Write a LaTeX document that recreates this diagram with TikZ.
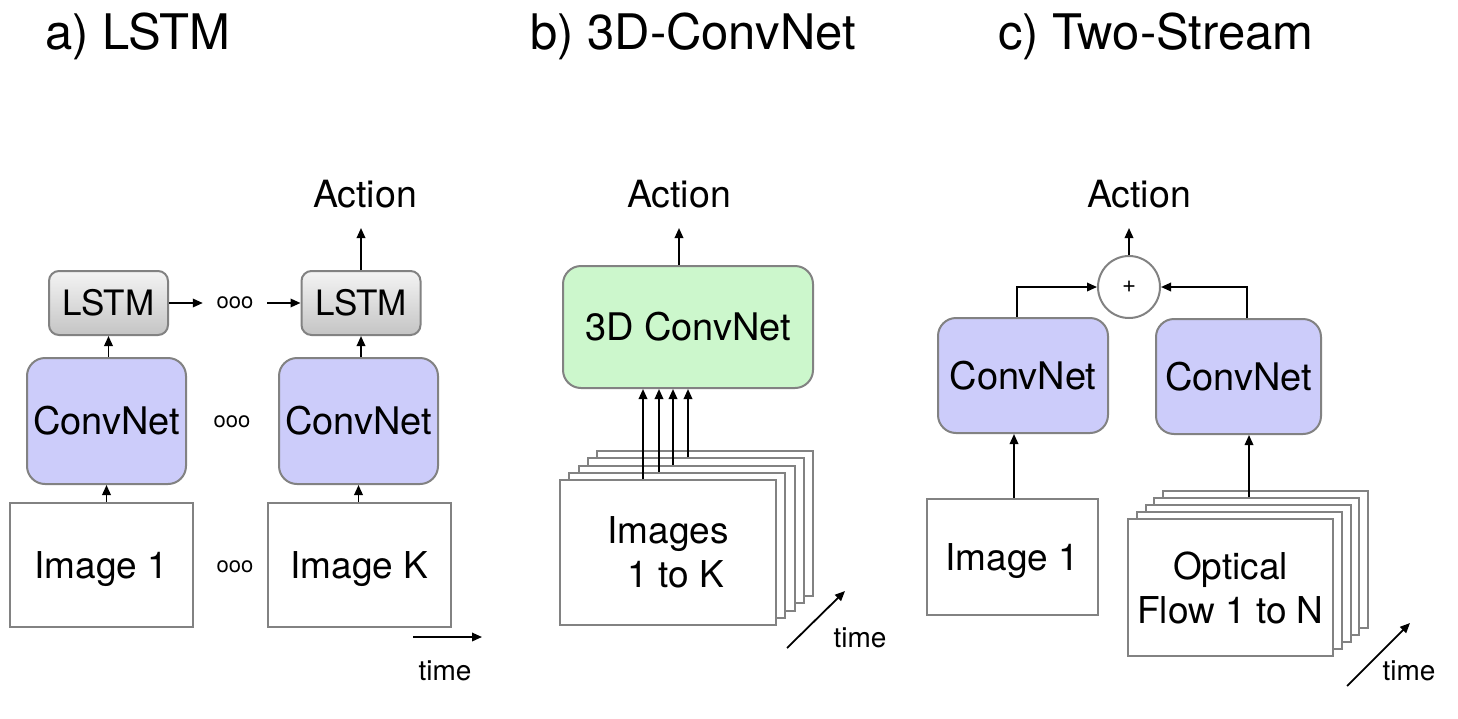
\documentclass[tikz,border=0pt]{standalone}
\usepackage{fontspec}
\setmainfont{TeX Gyre Heros}
\usetikzlibrary{arrows.meta,calc}
\definecolor{convfill}{RGB}{204,204,250}
\definecolor{greenfill}{RGB}{204,247,204}
\definecolor{bordergray}{RGB}{130,130,130}
\definecolor{lstmtop}{RGB}{244,244,244}
\definecolor{lstmbot}{RGB}{196,196,196}
\begin{document}
\begin{tikzpicture}[x=1pt,y=-1pt,
  bdr/.style={draw=bordergray, line width=2pt},
  conv/.style={bdr, fill=convfill, rounded corners=18pt, inner sep=0pt, font=\fontsize{38}{40}\selectfont},
  imgbox/.style={bdr, fill=white, inner sep=0pt, align=center, font=\fontsize{37}{44}\selectfont},
  lstmbox/.style={bdr, top color=lstmtop, bottom color=lstmbot, rounded corners=10pt, inner sep=0pt,
    minimum width=119pt, minimum height=64pt, font=\fontsize{35}{38}\selectfont},
  arr/.style={-{Triangle[length=10pt,width=8.5pt]}, line width=1.8pt},
  title/.style={anchor=base west, inner sep=0pt, font=\fontsize{49}{52}\selectfont},
  actlbl/.style={anchor=base, inner sep=0pt, font=\fontsize{37.5}{40}\selectfont},
  timelbl/.style={anchor=base, inner sep=0pt, font=\fontsize{28}{30}\selectfont},
  dotslbl/.style={inner sep=0pt, font=\fontsize{22}{24}\selectfont}
]
\fill[white] (0,0) rectangle (1458,718);
\useasboundingbox (0,0) rectangle (1458,718);

% titles
\node[title] (tA) at (45,49) {a) LSTM};
\node[title] (tB) at (530,49) {b) 3D-ConvNet};
\node[title] (tC) at (998,49) {c) Two-Stream};

% ---------------- panel a
\node[imgbox, text depth=0pt, minimum width=183pt, minimum height=124pt] (img1) at (101.5,565) {Image 1};
\node[imgbox, text depth=0pt, minimum width=183pt, minimum height=124pt] (imgK) at (359.5,565) {Image K};
\node[conv, minimum width=159pt, minimum height=126pt] (cnvA1) at (106.5,421) {ConvNet};
\node[conv, minimum width=159pt, minimum height=126pt] (cnvA2) at (358.5,421) {ConvNet};
\node[lstmbox] (lstm1) at (108.5,303) {LSTM};
\node[lstmbox] (lstm2) at (361,303) {LSTM};
\node[dotslbl] (dImg) at (235,567) {ooo};
\node[dotslbl] (dConv) at (232,422) {ooo};
\node[dotslbl, minimum width=64pt] (dL) at (235,303) {ooo};
\node[actlbl] (actA) at (365,207) {Action};

\draw[arr] (img1.north -| cnvA1.south) -- (cnvA1.south);
\draw[arr] (imgK.north -| cnvA2.south) -- (cnvA2.south);
\draw[arr] (cnvA1.north -| lstm1.south) -- (lstm1.south);
\draw[arr] (cnvA2.north -| lstm2.south) -- (lstm2.south);
\draw[arr] (lstm1.east) -- (dL.west);
\draw[arr] (dL.east) -- (lstm2.west);
\draw[arr, shorten >=21pt] (lstm2.north) -- (lstm2.north |- actA.base);

\coordinate (tA0) at (413,637);
\coordinate (tA1) at (482,637);
\draw[arr] (tA0) -- (tA1);
\node[timelbl] (timeA) at (445,680) {time};

% ---------------- panel b
\node[actlbl] (actB) at (679,207) {Action};
\node[conv, fill=greenfill, minimum width=250pt, minimum height=122pt] (cnn3d) at (688,327) {3D ConvNet};
\foreach \k in {4,3,2,1} {
  \node[imgbox, minimum width=216pt, minimum height=145pt] (s\k) at ({668+9.25*\k},{552.5-7.25*\k}) {};
}
\node[imgbox, minimum width=216pt, minimum height=145pt] (s0) at (668,552.5) {Images\\\hspace*{16pt}1 to K};
\coordinate (xb0) at (643,0);
\coordinate (xb1) at (659,0);
\coordinate (xb2) at (673,0);
\coordinate (xb3) at (688,0);
\draw[arr] (s0.north -| xb0) -- (cnn3d.south -| xb0);
\draw[arr] (s1.north -| xb1) -- (cnn3d.south -| xb1);
\draw[arr] (s2.north -| xb2) -- (cnn3d.south -| xb2);
\draw[arr] (s3.north -| xb3) -- (cnn3d.south -| xb3);
\draw[arr, shorten >=21pt] (cnn3d.north -| actB.base) -- (actB.base);

\coordinate (tB0) at (787,648);
\coordinate (tB1) at (845,591);
\draw[arr] (tB0) -- (tB1);
\node[timelbl] (timeB) at (860,647) {time};

% ---------------- panel c
\node[actlbl] (actC) at (1139,207) {Action};
\node[bdr, circle, fill=white, minimum size=62pt, inner sep=0pt, font=\fontsize{24}{26}\selectfont] (plus) at (1129,287) {+};
\node[conv, minimum width=170pt, minimum height=115pt] (cnvC1) at (1023,375.5) {ConvNet};
\node[conv, minimum width=165pt, minimum height=115pt] (cnvC2) at (1238.5,376.5) {ConvNet};
\node[imgbox, text depth=0pt, minimum width=171pt, minimum height=116pt] (imgC) at (1012.5,557) {Image 1};
\foreach \k in {4,3,2,1} {
  \node[imgbox, minimum width=205pt, minimum height=137pt] (f\k) at ({1230.5+8.75*\k},{587.5-7*\k}) {};
}
\node[imgbox, minimum width=205pt, minimum height=137pt] (f0) at (1230.5,587.5) {Optical\\Flow 1 to N};

\coordinate (xc1) at (1017,0);
\coordinate (xc2) at (1247,0);
\coordinate (xc3) at (1014,0);
\coordinate (xc4) at (1249,0);
\draw[arr] (cnvC1.north -| xc1) |- (plus.west);
\draw[arr] (cnvC2.north -| xc2) |- (plus.east);
\draw[arr] (imgC.north -| xc3) -- (cnvC1.south -| xc3);
\draw[arr] (f3.north -| xc4) -- (cnvC2.south -| xc4);
\draw[arr, shorten >=21pt] (plus.north) -- (plus.north |- actC.base);

\coordinate (tC0) at (1347,686);
\coordinate (tC1) at (1410,623);
\draw[arr] (tC0) -- (tC1);
\node[timelbl] (timeC) at (1409,680) {time};
\end{tikzpicture}
\end{document}
